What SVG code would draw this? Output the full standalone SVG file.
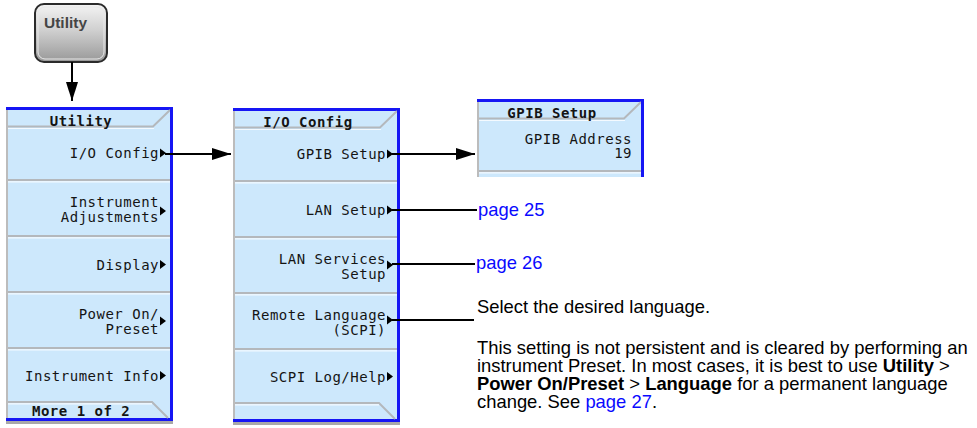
<svg xmlns="http://www.w3.org/2000/svg" width="977" height="428" viewBox="0 0 977 428">
<defs>
<linearGradient id="keyg" x1="0" y1="0" x2="0" y2="1">
<stop offset="0" stop-color="#f4f4f4"/>
<stop offset="0.45" stop-color="#d0d0d0"/>
<stop offset="1" stop-color="#989898"/>
</linearGradient>
<marker id="ah" markerWidth="19" markerHeight="12" refX="19" refY="6" orient="auto" markerUnits="userSpaceOnUse">
<path d="M0,0 L19,6 L0,12 z" fill="#000"/>
</marker>
<g id="menu-head">
<rect x="0" y="0" width="167" height="3" class="blue"/>
<path d="M2,19.5 H147 L164,3" class="sep"/>
<path d="M2,21.5 H148" class="hl"/>
</g>
<g id="menu-frame">
<rect x="0" y="0" width="167" height="313" class="bg"/>
<rect x="0" y="0" width="2" height="313" fill="#bcbcbc"/>
<use href="#menu-head"/>
<rect x="164" y="0" width="3" height="314" class="blue"/>
<rect x="0" y="311" width="167" height="3" class="blue"/>
<rect x="0" y="314" width="167" height="3" fill="#a9a9a9"/>
<path d="M2,73 H164 M2,129 H164 M2,185 H164 M2,241 H164" class="sep"/>
<path d="M2,74.8 H164 M2,130.8 H164 M2,186.8 H164 M2,242.8 H164" class="hl"/>
<path d="M2,295 H146 L162,311" class="sep"/>
<path d="M2,296.8 H146" class="hl"/>
</g>
<polygon id="tri" points="0,-4.5 6,0 0,4.5" fill="#000"/>
</defs>
<style>
.bg{fill:#cde8fc}
.blue{fill:#1616f4}
.sep{fill:none;stroke:#b4b8bc;stroke-width:2}
.hl{fill:none;stroke:#f4faff;stroke-width:1.2}
.sk{font-family:"DejaVu Sans Mono","Liberation Mono",monospace;font-size:14px;letter-spacing:0.5px;fill:#141414;text-anchor:end}
.tt{font-weight:bold;text-anchor:middle}
.st{font-weight:bold;text-anchor:start}
.doc{font-family:"Liberation Sans",Arial,sans-serif;font-size:18.4px;fill:#000}
.lnk{fill:#0a0aff}
.b{font-weight:bold}
.conn{stroke:#000;stroke-width:2;fill:none}
</style>

<g id="node-utility-key">
<rect x="35" y="4" width="72" height="58" rx="9" fill="url(#keyg)" stroke="#2b2b2b" stroke-width="2"/>
<rect x="38" y="7" width="66" height="52" rx="7" fill="none" stroke="#e8e8e8" stroke-width="1"/>
<text x="44" y="28" font-family="Liberation Sans,Arial,sans-serif" font-size="15.5" font-weight="bold" fill="#454545">Utility</text>
</g>

<g id="node-utility-menu" transform="translate(6,107)">
<use href="#menu-frame"/>
<text class="sk tt" x="75" y="19">Utility</text>
<text class="sk" x="153" y="51">I/O Config</text>
<use href="#tri" x="154" y="46"/>
<text class="sk" x="153" y="99.5">Instrument</text>
<text class="sk" x="153" y="115">Adjustments</text>
<use href="#tri" x="154" y="104"/>
<text class="sk" x="153" y="162.5">Display</text>
<use href="#tri" x="154" y="157.5"/>
<text class="sk" x="153" y="211.5">Power On/</text>
<text class="sk" x="153" y="227">Preset</text>
<use href="#tri" x="154" y="214"/>
<text class="sk" x="153" y="273.5">Instrument Info</text>
<use href="#tri" x="154" y="268.5"/>
<text class="sk st" x="26" y="309">More 1 of 2</text>
</g>

<g id="node-io-config" transform="translate(233,108)">
<use href="#menu-frame"/>
<text class="sk tt" x="75" y="19">I/O Config</text>
<text class="sk" x="153" y="51">GPIB Setup</text>
<use href="#tri" x="154" y="46"/>
<text class="sk" x="153" y="107">LAN Setup</text>
<use href="#tri" x="154" y="102"/>
<text class="sk" x="153" y="155.5">LAN Services</text>
<text class="sk" x="153" y="171">Setup</text>
<use href="#tri" x="154" y="157"/>
<text class="sk" x="153" y="211.5">Remote Language</text>
<text class="sk" x="153" y="227">(SCPI)</text>
<use href="#tri" x="154" y="212"/>
<text class="sk" x="153" y="273.5">SCPI Log/Help</text>
<use href="#tri" x="154" y="268.5"/>
</g>

<g id="node-gpib-setup" transform="translate(477,99)">
<rect x="0" y="0" width="167" height="78" class="bg"/>
<rect x="0" y="0" width="2" height="78" fill="#bcbcbc"/>
<use href="#menu-head"/>
<rect x="164" y="0" width="3" height="78" class="blue"/>
<path d="M2,72 H164" class="sep"/>
<path d="M2,73.8 H164" class="hl"/>
<text class="sk tt" x="75" y="19">GPIB Setup</text>
<text class="sk" x="155" y="45">GPIB Address</text>
<text class="sk" x="155" y="59">19</text>
</g>

<g id="connectors">
<line class="conn" x1="72" y1="62" x2="72" y2="101" marker-end="url(#ah)"/>
<line class="conn" x1="165" y1="154" x2="231" y2="154" marker-end="url(#ah)"/>
<line class="conn" x1="392" y1="154" x2="475" y2="154" marker-end="url(#ah)"/>
<line class="conn" x1="392" y1="210" x2="477" y2="210"/>
<line class="conn" x1="392" y1="264" x2="475" y2="264"/>
<line class="conn" x1="392" y1="320" x2="474" y2="320"/>
</g>

<g id="node-page25">
<text class="doc lnk" x="478" y="216">page 25</text>
</g>
<g id="node-page26">
<text class="doc lnk" x="476" y="269">page 26</text>
</g>
<g id="node-lang-note">
<text class="doc" x="477" y="313">Select the desired language.</text>
<text class="doc" x="477" y="353.5">This setting is not persistent and is cleared by performing an</text>
<text class="doc" x="477" y="371.8">instrument Preset. In most cases, it is best to use <tspan class="b">Utility</tspan> &gt;</text>
<text class="doc" x="477" y="390.1"><tspan class="b">Power On/Preset</tspan> &gt; <tspan class="b">Language</tspan> for a permanent language</text>
<text class="doc" x="477" y="408.4">change. See <tspan class="lnk">page 27</tspan>.</text>
</g>
</svg>
